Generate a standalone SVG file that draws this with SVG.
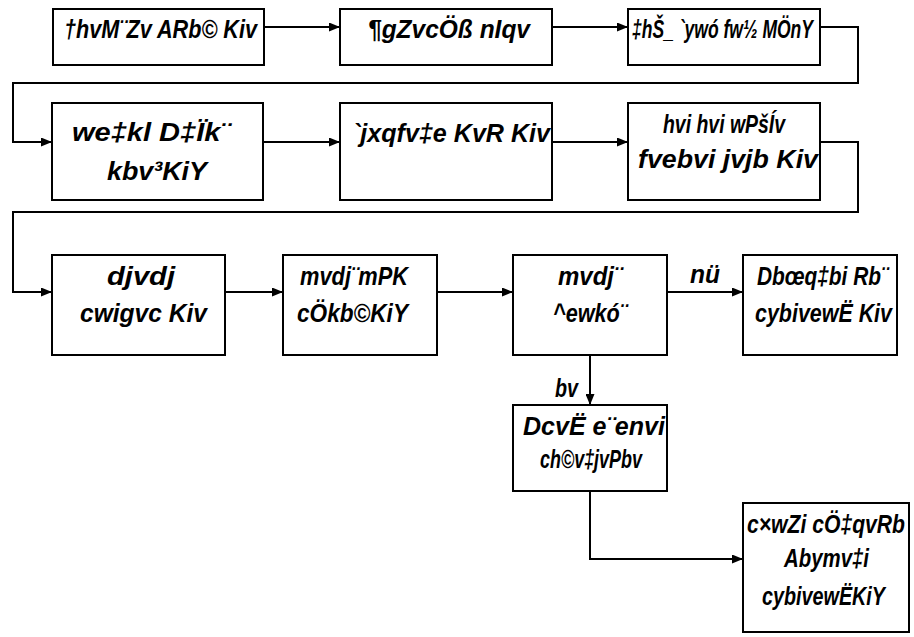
<svg xmlns="http://www.w3.org/2000/svg" width="914" height="637" viewBox="0 0 914 637">
<style>
.box{fill:#fff;stroke:#000;stroke-width:2}
.c{fill:none;stroke:#000;stroke-width:2}
text{font-family:"Liberation Sans",Arial,sans-serif;font-weight:bold;font-style:italic;font-size:25px;fill:#000}
</style>
<defs>
<marker id="ah" markerUnits="userSpaceOnUse" markerWidth="11" markerHeight="9" refX="11" refY="4.5" orient="auto"><path d="M0,0 L11,4.5 L0,9 z" fill="#000"/></marker>
</defs>
<g id="connectors">
<path class="c" d="M264,27 H340" marker-end="url(#ah)"/>
<path class="c" d="M552,27 H628" marker-end="url(#ah)"/>
<path class="c" d="M820,27 H858 V83 H13 V142 H52" marker-end="url(#ah)"/>
<path class="c" d="M263,142 H340" marker-end="url(#ah)"/>
<path class="c" d="M552,142 H628" marker-end="url(#ah)"/>
<path class="c" d="M820,142 H858 V212 H13 V292 H52" marker-end="url(#ah)"/>
<path class="c" d="M225,292 H283" marker-end="url(#ah)"/>
<path class="c" d="M437,292 H513" marker-end="url(#ah)"/>
<path class="c" d="M667,292 H743" marker-end="url(#ah)"/>
<path class="c" d="M590,355 V405" marker-end="url(#ah)"/>
<path class="c" d="M590,491 V559 H743" marker-end="url(#ah)"/>
<text x="690" y="283" textLength="30" lengthAdjust="spacingAndGlyphs">nü</text>
<text x="555" y="397" textLength="23" lengthAdjust="spacingAndGlyphs">bv</text>
</g>
<g id="n1"><rect class="box" x="53" y="9" width="211" height="56"/><text x="64" y="38" textLength="193" lengthAdjust="spacingAndGlyphs">†hvM¨Zv ARb© Kiv</text></g>
<g id="n2"><rect class="box" x="340" y="9" width="212" height="56"/><text x="368" y="38" textLength="162" lengthAdjust="spacingAndGlyphs">¶gZvcÖß nIqv</text></g>
<g id="n3"><rect class="box" x="628" y="9" width="192" height="56"/><text x="632" y="38" textLength="181" lengthAdjust="spacingAndGlyphs">‡hŠ_ `ywó fw½ MÖnY</text></g>
<g id="n4"><rect class="box" x="52" y="103" width="211" height="97"/><text x="72" y="141" textLength="158" lengthAdjust="spacingAndGlyphs">we‡kl D‡Ïk¨</text><text x="107" y="180" textLength="100" lengthAdjust="spacingAndGlyphs">kbv³KiY</text></g>
<g id="n5"><rect class="box" x="340" y="103" width="212" height="97"/><text x="352" y="142" textLength="198" lengthAdjust="spacingAndGlyphs">`jxqfv‡e KvR Kiv</text></g>
<g id="n6"><rect class="box" x="628" y="103" width="192" height="97"/><text x="663" y="133" textLength="122" lengthAdjust="spacingAndGlyphs">hvi hvi wPšÍv</text><text x="638" y="168" textLength="180" lengthAdjust="spacingAndGlyphs">fvebvi jvjb Kiv</text></g>
<g id="n7"><rect class="box" x="52" y="255" width="173" height="100"/><text x="107" y="285" textLength="68" lengthAdjust="spacingAndGlyphs">djvdj</text><text x="80" y="322" textLength="127" lengthAdjust="spacingAndGlyphs">cwigvc Kiv</text></g>
<g id="n8"><rect class="box" x="283" y="255" width="154" height="100"/><text x="300" y="285" textLength="108" lengthAdjust="spacingAndGlyphs">mvdj¨mPK</text><text x="297" y="322" textLength="111" lengthAdjust="spacingAndGlyphs">cÖkb©KiY</text></g>
<g id="n9"><rect class="box" x="513" y="255" width="154" height="100"/><text x="558" y="285" textLength="64" lengthAdjust="spacingAndGlyphs">mvdj¨</text><text x="553" y="322" textLength="74" lengthAdjust="spacingAndGlyphs">^ewkó¨</text></g>
<g id="n10"><rect class="box" x="743" y="255" width="154" height="100"/><text x="757" y="285" textLength="131" lengthAdjust="spacingAndGlyphs">Dbœq‡bi Rb¨</text><text x="755" y="322" textLength="137" lengthAdjust="spacingAndGlyphs">cybivewË Kiv</text></g>
<g id="n11"><rect class="box" x="513" y="405" width="154" height="86"/><text x="523" y="435" textLength="142" lengthAdjust="spacingAndGlyphs">DcvË e¨envi</text><text x="540" y="468" textLength="102" lengthAdjust="spacingAndGlyphs">ch©v‡jvPbv</text></g>
<g id="n12"><rect class="box" x="743" y="503" width="166" height="129"/><text x="747" y="533" textLength="158" lengthAdjust="spacingAndGlyphs">c×wZi cÖ‡qvRb</text><text x="784" y="567" textLength="85" lengthAdjust="spacingAndGlyphs">Abymv‡i</text><text x="762" y="605" textLength="123" lengthAdjust="spacingAndGlyphs">cybivewËKiY</text></g>
</svg>
